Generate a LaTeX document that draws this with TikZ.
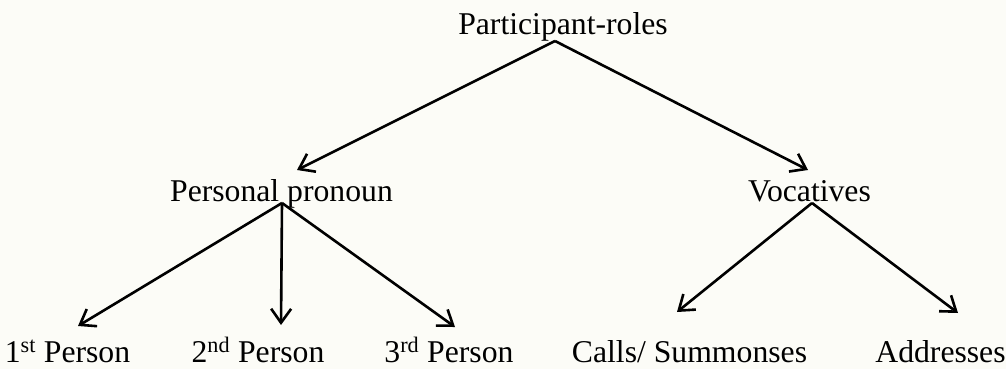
\documentclass[tikz,border=0pt]{standalone}
\usepackage{fontspec}
\setmainfont{Liberation Serif}
\usetikzlibrary{arrows.meta}
\definecolor{paper}{RGB}{252,252,247}
\begin{document}
\begin{tikzpicture}[x=1pt,y=-1pt,
  label/.style={inner sep=0pt,anchor=base,text depth=0pt,font=\fontsize{31.7}{38}\selectfont},
  branch/.style={line width=2.6pt,-{Straight Barb[length=14pt,width=20pt,line width=2.6pt]}}]
  \fill[paper] (0,0) rectangle (1006,369);
  \useasboundingbox (0,0) rectangle (1006,369);

  % labels
  \node[label] (root) at (563,35) {Participant-roles};
  \node[label] (pp)   at (281.5,201) {Personal pronoun};
  \node[label] (voc)  at (809.5,201) {Vocatives};
  \node[label] (p1)   at (67.5,362) {1\textsuperscript{st} Person};
  \node[label] (p2)   at (258,362) {2\textsuperscript{nd} Person};
  \node[label] (p3)   at (449,362) {3\textsuperscript{rd} Person};
  \node[label] (call) at (689.5,362) {Calls/ Summonses};
  \node[label] (addr) at (940.5,362) {Addresses};

  % branch points under each parent and arrow tips above each child
  \coordinate (root-o) at (555,41);
  \coordinate (pp-o)   at (282,203);
  \coordinate (voc-o)  at (812,203);
  \coordinate (pp-i)   at (297,170);
  \coordinate (voc-i)  at (808,170);
  \coordinate (p1-i)   at (78,326);
  \coordinate (p2-i)   at (281,325);
  \coordinate (p3-i)   at (455,327);
  \coordinate (call-i) at (677,312);
  \coordinate (addr-i) at (958,313);

  \draw[branch] (root-o) -- (pp-i);
  \draw[branch] (root-o) -- (voc-i);
  \draw[branch] (pp-o) -- (p1-i);
  \draw[branch] (pp-o) -- (p2-i);
  \draw[branch] (pp-o) -- (p3-i);
  \draw[branch] (voc-o) -- (call-i);
  \draw[branch] (voc-o) -- (addr-i);
\end{tikzpicture}
\end{document}
